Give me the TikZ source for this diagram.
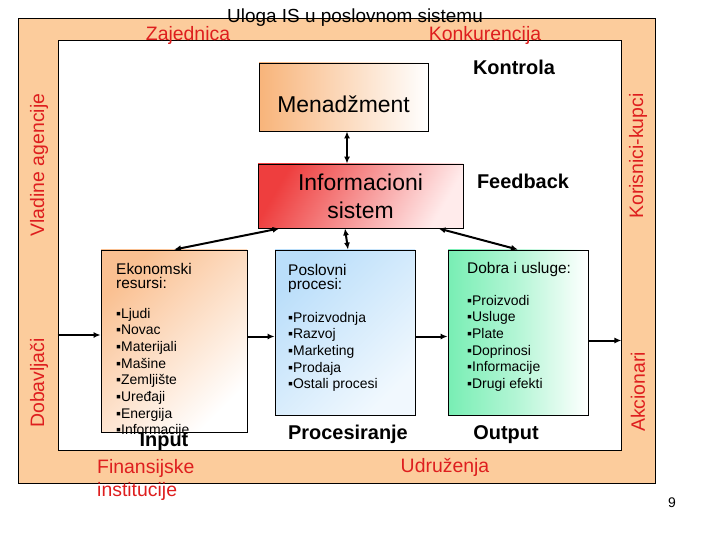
\documentclass[tikz,border=0pt]{standalone}
\usepackage{fontspec}
\setmainfont{Liberation Sans}
\usetikzlibrary{arrows.meta,positioning,calc}
\definecolor{peach}{RGB}{252,204,156}
\definecolor{redtxt}{RGB}{222,30,30}
\definecolor{mgmt}{RGB}{248,180,122}
\definecolor{isred}{RGB}{238,62,62}
\definecolor{ekoor}{RGB}{250,192,145}
\definecolor{posblue}{RGB}{186,222,250}
\definecolor{dobgreen}{RGB}{120,238,180}

\begin{document}
\begin{tikzpicture}
  [x=1bp,y=-1bp,
  frame/.style={draw=black,line width=0.8bp,inner sep=0pt},
  box/.style={draw=black,line width=0.8bp,inner sep=0pt},
  sidetxt/.style={text=redtxt,font=\fontsize{19.5}{23}\selectfont,inner sep=0pt},
  bigtxt/.style={font=\fontsize{23}{28}\selectfont,align=center,inner sep=0pt},
  boldtxt/.style={font=\fontsize{20}{23}\selectfont\bfseries,inner sep=0pt,anchor=base},
  headtxt/.style={font=\fontsize{15.5}{14}\selectfont,align=left,anchor=north west,inner sep=0pt},
  listtxt/.style={font=\fontsize{14}{16.7}\selectfont,align=left,anchor=north west,inner sep=0pt},
  arr/.style={-{Latex[length=7bp,width=6bp]},line width=2bp},
  dbl/.style={{Latex[length=7bp,width=6bp]}-{Latex[length=7bp,width=6bp]},line width=2bp}
  ]
  \useasboundingbox (0,0) rectangle (720,540);
  % frames
  \node[frame,fill=peach,minimum width=637bp,minimum height=465bp] (outer) at (336.5,250.5) {};
  \node[frame,fill=white,minimum width=563bp,minimum height=410bp] (inner) at (339.5,245) {};
  \node[inner sep=0pt,font=\fontsize{19}{22}\selectfont] (title) at (355,18) {Uloga IS u poslovnom sistemu};
  % surroundings
  \node[sidetxt] (zaj) at (188,35) {Zajednica};
  \node[sidetxt] (konk) at (485,35) {Konkurencija};
  \node[sidetxt,rotate=90] (vlad) at (39,165) {Vladine agencije};
  \node[sidetxt,rotate=90] (dobav) at (39,383) {Dobavljači};
  \node[sidetxt,rotate=90] (kupci) at (638,156) {Korisnici-kupci};
  \node[sidetxt,rotate=90] (akc) at (638,392) {Akcionari};
  \node[sidetxt,align=left,anchor=west,font=\fontsize{19.5}{23.5}\selectfont] (fin) at (97,480) {Finansijske\\institucije};
  \node[sidetxt] (udr) at (445,467) {Udruženja};
  % management and IS
  \node[box,left color=mgmt,right color=white,minimum width=169bp,minimum height=68bp] (men) at (343.5,97) {};
  \node[bigtxt] (mentxt) at ([yshift=-7bp]men.center) {Menadžment};
  \node[box,left color=isred,right color=white!92!red,shading angle=60,minimum width=205bp,minimum height=64bp] (is) at (360.5,196) {};
  \node[bigtxt] (istxt) at (is.center) {Informacioni\\sistem};
  \node[boldtxt] (kontr) at (514,75) {Kontrola};
  \node[boldtxt] (feed) at (523,189) {Feedback};
  % stages
  \node[box,left color=ekoor,right color=white,shading angle=45,minimum width=146bp,minimum height=182bp] (eko) at (174,341) {};
  \node[box,left color=posblue,right color=white!80!posblue,shading angle=45,minimum width=140bp,minimum height=165bp] (pos) at (345,332.5) {};
  \node[box,left color=dobgreen,right color=white,middle color=white!45!dobgreen,minimum width=140bp,minimum height=165bp] (dob) at (518,332.5) {};
  \node[headtxt] (ekohead) at (116,263) {Ekonomski\\resursi:};
  \node[listtxt] (ekolist) at (116,308) {▪Ljudi\\▪Novac\\▪Materijali\\▪Mašine\\▪Zemljište\\▪Uređaji\\▪Energija\\▪Informacije};
  \node[headtxt] (poshead) at (288,264) {Poslovni\\procesi:};
  \node[listtxt] (poslist) at (288,312) {▪Proizvodnja\\▪Razvoj\\▪Marketing\\▪Prodaja\\▪Ostali procesi};
  \node[headtxt] (dobhead) at (467,262) {Dobra i usluge:};
  \node[listtxt] (doblist) at (467,295) {▪Proizvodi\\▪Usluge\\▪Plate\\▪Doprinosi\\▪Informacije\\▪Drugi efekti};
  \node[boldtxt] (input) at (164,446) {Input};
  \node[boldtxt] (proc) at (348,439) {Procesiranje};
  \node[boldtxt] (output) at (506,439) {Output};
  \node[inner sep=0pt,font=\fontsize{14}{16}\selectfont] (page) at (672,503) {9};
  % connectors
  \draw[dbl] ([xshift=3.5bp]men.south) -- ([xshift=3.5bp]men.south |- is.north);
  \draw[dbl] ([xshift=22bp]is.south west) -- (eko.north);
  \draw[dbl] (pos.north |- is.south) -- ([xshift=3bp]pos.north);
  \draw[dbl] ([xshift=-25bp]is.south east) -- (dob.north);
  \draw[arr] ([yshift=6bp]eko.west -| inner.west) -- ([yshift=6bp]eko.west);
  \draw[arr] ([yshift=-4bp]pos.west -| eko.east) -- ([yshift=-4bp]pos.west);
  \draw[arr] ([yshift=-4bp]pos.east) -- ([yshift=-4bp]dob.west);
  \coordinate (outpt) at ([yshift=-8bp]dob.east -| inner.east);
  \draw[arr] ([yshift=-8bp]dob.east) -- (outpt);
\end{tikzpicture}
\end{document}
